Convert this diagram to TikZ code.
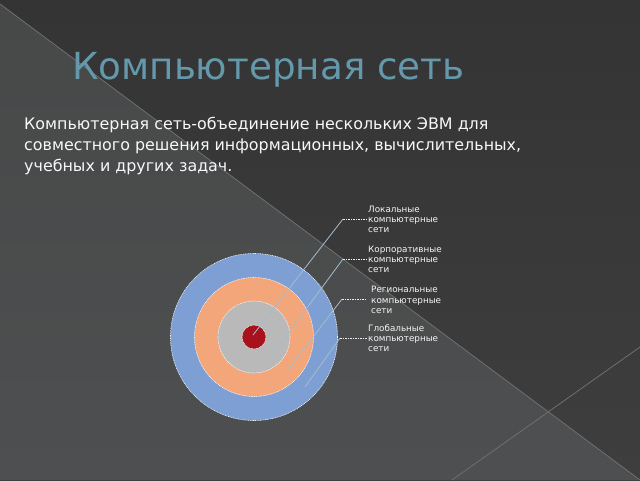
\documentclass[tikz,border=0pt]{standalone}
\usepackage{fontspec}
\setmainfont{DejaVu Sans}
\definecolor{bgtop}{HTML}{343434}
\definecolor{bgtop2}{HTML}{3E3E3E}
\definecolor{bglow}{HTML}{474848}
\definecolor{bglow2}{HTML}{4E4F50}
\definecolor{edgeln}{HTML}{6E6F70}
\definecolor{titlec}{HTML}{6499AC}
\definecolor{ringblue}{HTML}{7E9FD3}
\definecolor{ringorange}{HTML}{F4A67B}
\definecolor{ringgray}{HTML}{B9B9B9}
\definecolor{ringred}{HTML}{A8121C}
\definecolor{connc}{HTML}{A3BDCC}
\tikzset{
  ring/.style={circle,draw=white!90!gray,line width=0.6pt,dash pattern=on 1pt off 0.7pt,inner sep=0pt},
  conn/.style={draw=connc,line width=0.8pt},
  conndash/.style={draw=white!85!gray,line width=0.8pt,dash pattern=on 1.5pt off 1pt},
  lbl/.style={anchor=west,inner sep=0pt,align=left,text=white!92!gray,font=\fontsize{8.8}{10}\selectfont},
}
\begin{document}
\begin{tikzpicture}[x=1pt,y=-1pt]
\useasboundingbox (0,0) rectangle (640,480);
% background
\shade[top color=bgtop,bottom color=bgtop2] (0,0) rectangle (640,480);
\shade[top color=bglow,bottom color=bglow2] (0,4) -- (640,480) -- (0,480) -- cycle;
\fill[bglow2] (452,480) -- (548,412) -- (640,480) -- cycle;
\draw[edgeln,line width=0.8pt] (0,4) -- (640,480);
\draw[edgeln,line width=0.8pt] (452,480) -- (640,347);
% title and text
\node[anchor=west,inner sep=0pt,text=titlec,font=\fontsize{37.3}{40}\selectfont] (title) at (72,70) {Компьютерная сеть};
\node[anchor=north west,inner sep=0pt,align=left,text=white!94!gray,font=\fontsize{15.9}{21.2}\selectfont] (body) at (24,117)
  {Компьютерная сеть-объединение нескольких ЭВМ для\\совместного решения информационных, вычислительных,\\учебных и других задач.};
% rings
\node[ring,fill=ringblue,minimum size=167pt] (outer) at (254,337) {};
\node[ring,fill=ringorange,minimum size=119pt] (mid) at (254,337) {};
\node[ring,fill=ringgray,minimum size=72pt] (inner) at (254,337) {};
\node[ring,fill=ringred,minimum size=24pt] (core) at (254,337) {};
% labels
\node[lbl] (l1) at (368,219) {Локальные\\компьютерные\\сети};
\node[lbl] (l2) at (368,259) {Корпоративные\\компьютерные\\сети};
\node[lbl,font=\fontsize{8.8}{10.6}\selectfont] (l3) at (371,300) {Региональные\\компьютерные\\сети};
\node[lbl] (l4) at (368,338) {Глобальные\\компьютерные\\сети};
% connectors
\coordinate (s1) at (253,335);
\coordinate (s2) at (273,354);
\coordinate (s3) at (288,370);
\coordinate (s4) at (305,387);
\coordinate (b1) at (343,219);
\coordinate (b2) at (343,259);
\coordinate (b3) at (342,299);
\coordinate (b4) at (340,338);
\draw[conn] (s1) -- (b1);
\draw[conn] (s2) -- (b2);
\draw[conn] (s3) -- (b3);
\draw[conn] (s4) -- (b4);
\draw[conndash] (b1) -- ([xshift=-1pt]l1.west);
\draw[conndash] (b2) -- ([xshift=-1pt]l2.west);
\draw[conndash] (b3) -- ([xshift=-4pt]l3.west |- b3);
\draw[conndash] (b4) -- ([xshift=-1pt]l4.west);
\end{tikzpicture}
\end{document}
